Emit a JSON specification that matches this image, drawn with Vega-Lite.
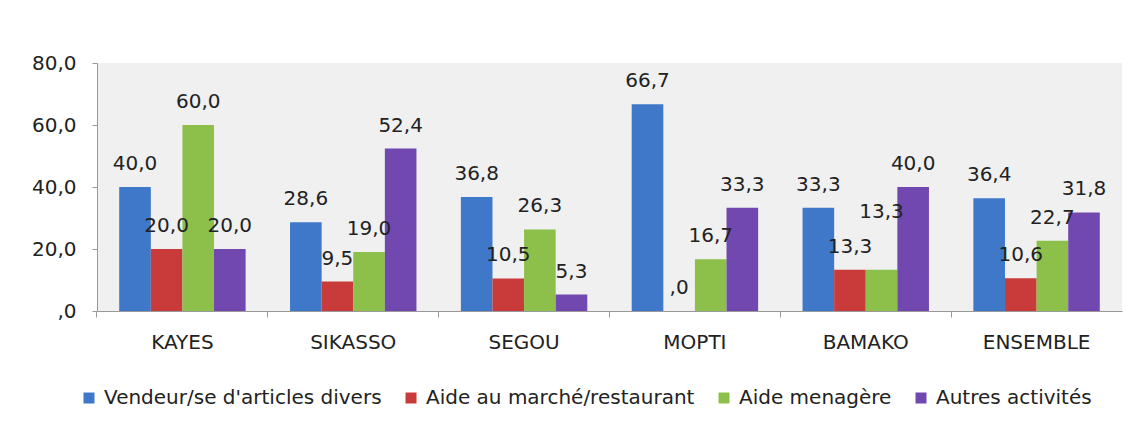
{
  "$schema": "https://vega.github.io/schema/vega-lite/v6.json",
  "autosize": "none",
  "width": 1025,
  "height": 248,
  "padding": {"left": 97, "top": 63, "right": 18, "bottom": 127},
  "background": "#ffffff",
  "config": {
    "locale": {"number": {"decimal": ",", "thousands": " ", "grouping": [3], "currency": ["", ""]}},
    "view": {"fill": "#f0f0f0", "stroke": null},
    "font": "DejaVu Sans"
  },
  "data": {
    "values": [
      {"region": "KAYES", "cat": "Vendeur/se d'articles divers", "value": 40.0},
      {"region": "KAYES", "cat": "Aide au marché/restaurant", "value": 20.0},
      {"region": "KAYES", "cat": "Aide menagère", "value": 60.0},
      {"region": "KAYES", "cat": "Autres activités", "value": 20.0},
      {"region": "SIKASSO", "cat": "Vendeur/se d'articles divers", "value": 28.6},
      {"region": "SIKASSO", "cat": "Aide au marché/restaurant", "value": 9.5},
      {"region": "SIKASSO", "cat": "Aide menagère", "value": 19.0},
      {"region": "SIKASSO", "cat": "Autres activités", "value": 52.4},
      {"region": "SEGOU", "cat": "Vendeur/se d'articles divers", "value": 36.8},
      {"region": "SEGOU", "cat": "Aide au marché/restaurant", "value": 10.5},
      {"region": "SEGOU", "cat": "Aide menagère", "value": 26.3},
      {"region": "SEGOU", "cat": "Autres activités", "value": 5.3},
      {"region": "MOPTI", "cat": "Vendeur/se d'articles divers", "value": 66.7},
      {"region": "MOPTI", "cat": "Aide au marché/restaurant", "value": 0},
      {"region": "MOPTI", "cat": "Aide menagère", "value": 16.7},
      {"region": "MOPTI", "cat": "Autres activités", "value": 33.3},
      {"region": "BAMAKO", "cat": "Vendeur/se d'articles divers", "value": 33.3},
      {"region": "BAMAKO", "cat": "Aide au marché/restaurant", "value": 13.3},
      {"region": "BAMAKO", "cat": "Aide menagère", "value": 13.3},
      {"region": "BAMAKO", "cat": "Autres activités", "value": 40.0},
      {"region": "ENSEMBLE", "cat": "Vendeur/se d'articles divers", "value": 36.4},
      {"region": "ENSEMBLE", "cat": "Aide au marché/restaurant", "value": 10.6},
      {"region": "ENSEMBLE", "cat": "Aide menagère", "value": 22.7},
      {"region": "ENSEMBLE", "cat": "Autres activités", "value": 31.8}
    ]
  },
  "encoding": {
    "x": {
      "field": "region", "type": "nominal", "sort": null,
      "scale": {"paddingInner": 0.26, "paddingOuter": 0.13},
      "axis": {
        "title": null, "labelAngle": 0, "labelFontSize": 20, "labelColor": "#222222",
        "labelPadding": 15, "domainColor": "#999999", "tickColor": "#999999",
        "tickSize": 6, "bandPosition": -0.176
      }
    },
    "xOffset": {"field": "cat", "type": "nominal", "sort": null},
    "y": {
      "field": "value", "type": "quantitative",
      "scale": {"domain": [0, 80]},
      "axis": {
        "title": null, "values": [0, 20, 40, 60, 80], "format": ".1f",
        "labelExpr": "datum.value === 0 ? ',0' : datum.label",
        "grid": false, "labelFontSize": 20, "labelColor": "#222222",
        "labelPadding": 16, "domainColor": "#999999", "tickColor": "#999999", "tickSize": 5
      }
    }
  },
  "layer": [
    {
      "mark": {"type": "bar"},
      "encoding": {
        "color": {
          "field": "cat", "type": "nominal", "sort": null,
          "scale": {
            "domain": ["Vendeur/se d'articles divers", "Aide au marché/restaurant", "Aide menagère", "Autres activités"],
            "range": ["#3f78c8", "#c93a3a", "#8cc04a", "#7048b0"]
          },
          "legend": {
            "title": null, "orient": "none", "direction": "horizontal",
            "legendX": -18, "legendY": 325,
            "symbolType": "square", "symbolSize": 121, "symbolStrokeWidth": 0,
            "labelFontSize": 20, "labelColor": "#222222",
            "columnPadding": 19, "labelOffset": 5, "labelLimit": 500
          }
        }
      }
    },
    {
      "transform": [{"filter": "!(datum.region === 'BAMAKO' && datum.cat === 'Aide menagère')"}],
      "mark": {"type": "text", "baseline": "alphabetic", "dy": -17, "fontSize": 20, "color": "#222222"},
      "encoding": {
        "text": {
          "condition": {"test": "datum.value === 0", "value": ",0"},
          "field": "value", "type": "quantitative", "format": ".1f"
        }
      }
    },
    {
      "transform": [{"filter": "datum.region === 'BAMAKO' && datum.cat === 'Aide menagère'"}],
      "mark": {"type": "text", "baseline": "alphabetic", "dy": -52, "fontSize": 20, "color": "#222222"},
      "encoding": {
        "text": {"field": "value", "type": "quantitative", "format": ".1f"}
      }
    }
  ]
}
